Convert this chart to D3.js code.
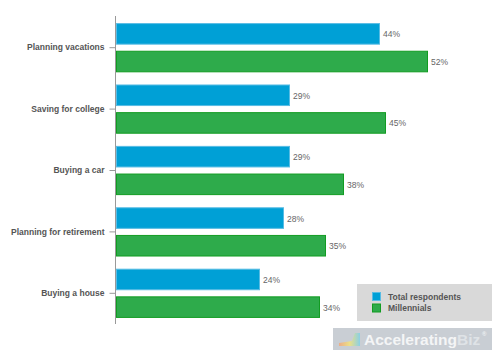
<!DOCTYPE html>
<html>
<head>
<meta charset="utf-8">
<script src="https://cdn.jsdelivr.net/npm/d3@7"></script>
<style>
  html, body { margin: 0; padding: 0; background: #fff; }
  svg { display: block; font-family: "Liberation Sans", Arial, sans-serif; }
</style>
</head>
<body>
<svg id="chart" width="500" height="357"></svg>
<script>
const categories = ["Planning vacations", "Saving for college", "Buying a car", "Planning for retirement", "Buying a house"];
const seriesNames = ["Total respondents", "Millennials"];
const totalRespondents = [44, 29, 29, 28, 24];
const millennials = [52, 45, 38, 35, 34];

const colors = {
  "Total respondents": { fill: "#00a0d6", stroke: "#58bce4" },
  "Millennials": { fill: "#2eab4b", stroke: "#129c22" }
};

const svg = d3.select("#chart");
const x0 = 116, y0 = 17, y1 = 324;

const x = d3.scaleLinear().domain([0, 60]).range([x0, x0 + 360]);
const y = d3.scaleBand().domain(categories).range([y0, y1]);
const yInner = d3.scaleBand().domain(seriesNames).range([0, y.bandwidth()])
  .paddingInner(0.22).paddingOuter(0.22);

const data = categories.map((c, i) => ({
  category: c,
  values: [
    { series: seriesNames[0], value: totalRespondents[i] },
    { series: seriesNames[1], value: millennials[i] }
  ]
}));

// bars
const groups = svg.append("g").selectAll("g").data(data).join("g")
  .attr("transform", d => `translate(0,${y(d.category)})`);

groups.selectAll("rect").data(d => d.values).join("rect")
  .attr("x", x(0) + 0.5)
  .attr("y", d => yInner(d.series) + 0.5)
  .attr("width", d => x(d.value) - x(0) - 1)
  .attr("height", yInner.bandwidth() - 1)
  .attr("fill", d => colors[d.series].fill)
  .attr("stroke", d => colors[d.series].stroke)
  .attr("stroke-width", 1);

groups.selectAll("text").data(d => d.values).join("text")
  .attr("x", d => x(d.value) + 3)
  .attr("y", d => yInner(d.series) + yInner.bandwidth() / 2 + 3.5)
  .attr("font-size", 8.5)
  .attr("fill", "#666")
  .text(d => d.value + "%");

// y axis
const yAxis = d3.axisLeft(y).tickSize(6).tickPadding(5);
const ag = svg.append("g").attr("transform", `translate(${x0 - 0.5},0)`).call(yAxis);
ag.select(".domain").attr("d", `M0,${y0 - 1}V${y1}`).attr("stroke", "#999");
ag.selectAll(".tick line").attr("stroke", "#999");
ag.selectAll(".tick text")
  .attr("font-size", 8.5)
  .attr("font-weight", "bold")
  .attr("fill", "#555")
  .attr("font-family", "Liberation Sans, Arial, sans-serif");

// legend
const lg = svg.append("g");
lg.append("rect").attr("x", 357).attr("y", 284).attr("width", 135).attr("height", 37).attr("fill", "#d9d9d9");
seriesNames.forEach((s, i) => {
  lg.append("rect").attr("x", 372.5).attr("y", 292.5 + i * 11.5).attr("width", 8).attr("height", 8)
    .attr("fill", colors[s].fill).attr("stroke", colors[s].stroke);
  lg.append("text").attr("x", 388).attr("y", 299.5 + i * 11.5)
    .attr("font-size", 8.5).attr("font-weight", "bold").attr("fill", "#555").text(s);
});

// watermark
const wm = svg.append("g");
wm.append("rect").attr("x", 333).attr("y", 328).attr("width", 159).attr("height", 22).attr("fill", "#c9ced4");
const grad = svg.append("defs").append("linearGradient").attr("id", "lg1").attr("x1", 0).attr("x2", 1);
grad.append("stop").attr("offset", "0%").attr("stop-color", "#f3a77a");
grad.append("stop").attr("offset", "50%").attr("stop-color", "#f2e27a");
grad.append("stop").attr("offset", "100%").attr("stop-color", "#7fd0e8");
wm.append("path").attr("d", "M339,346 L339,343 L352,341 L355,333 L360,333 L360,346 Z").attr("fill", "url(#lg1)").attr("opacity", 0.85);
const wt = wm.append("text").attr("x", 364).attr("y", 344.5).attr("font-size", 15.5).attr("font-weight", "bold");
wt.append("tspan").attr("fill", "#f4f5f6").text("Accelerating");
wt.append("tspan").attr("fill", "#dfe3e7").text("Biz");
wm.append("text").attr("x", 482).attr("y", 336).attr("font-size", 6).attr("font-weight", "bold").attr("fill", "#eef0f2").text("®");
</script>
</body>
</html>
